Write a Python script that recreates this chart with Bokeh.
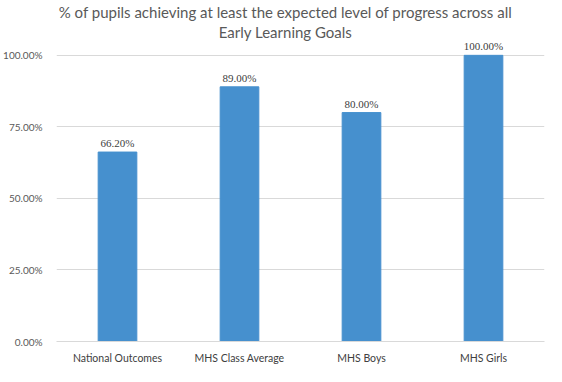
from bokeh.plotting import figure
from bokeh.models import ColumnDataSource, NumeralTickFormatter, FixedTicker, LabelSet, Label
from bokeh.embed import file_html
from bokeh.resources import INLINE

categories = ["National Outcomes", "MHS Class Average", "MHS Boys", "MHS Girls"]
values = [0.662, 0.89, 0.80, 1.00]
labels = ["66.20%", "89.00%", "80.00%", "100.00%"]
y_ticks = [0, 0.25, 0.5, 0.75, 1.0]
title_lines = ["% of pupils achieving at least the expected level of progress across all",
               "Early Learning Goals"]

FONT = "Lato"
source = ColumnDataSource(dict(cat=categories, val=values, lab=labels))

W, H = 546, 366
LEFT, RIGHT, BOTTOM = 48, 2, 24
FRAME_H = H - BOTTOM
top_px = 55  # pixel position of 100% gridline from canvas top
y_end = FRAME_H / (FRAME_H - top_px)

p = figure(x_range=categories, y_range=(0, y_end), width=W, height=H,
           output_backend="svg", toolbar_location=None,
           min_border_left=LEFT, min_border_right=RIGHT, min_border_top=0, min_border_bottom=BOTTOM)

p.vbar(x="cat", top="val", width=0.317, source=source, color="#4690ce")

ls = LabelSet(x="cat", y="val", text="lab", source=source, text_align="center",
              text_baseline="bottom", y_offset=3, text_font_size="11px",
              text_color="#404040", text_font=FONT)
p.add_layout(ls)

cx = 277 - LEFT
for i, line in enumerate(title_lines):
    p.add_layout(Label(x=cx, y=FRAME_H - 12 - 20 * i, x_units="screen", y_units="screen",
                       text=line, text_align="center", text_baseline="middle",
                       text_font=FONT, text_font_size="15px", text_color="#595959"))

p.yaxis.ticker = FixedTicker(ticks=y_ticks)
p.yaxis.formatter = NumeralTickFormatter(format="0.00%")
p.yaxis.axis_line_color = None
p.yaxis.major_tick_line_color = None
p.yaxis.minor_tick_line_color = None
p.yaxis.major_label_text_font = FONT
p.yaxis.major_label_text_font_size = "10px"
p.yaxis.major_label_text_color = "#595959"
p.yaxis.major_label_standoff = 8

p.xaxis.axis_line_color = "#d9d9d9"
p.xaxis.major_tick_line_color = None
p.xaxis.minor_tick_line_color = None
p.xaxis.major_label_text_font = FONT
p.xaxis.major_label_text_font_size = "10.5px"
p.xaxis.major_label_text_color = "#404040"
p.xaxis.major_label_standoff = 4

p.xgrid.grid_line_color = None
p.ygrid.grid_line_color = "#d9d9d9"
p.outline_line_color = None
p.x_range.range_padding = 0

open("out.html", "w").write(file_html(p, INLINE))
